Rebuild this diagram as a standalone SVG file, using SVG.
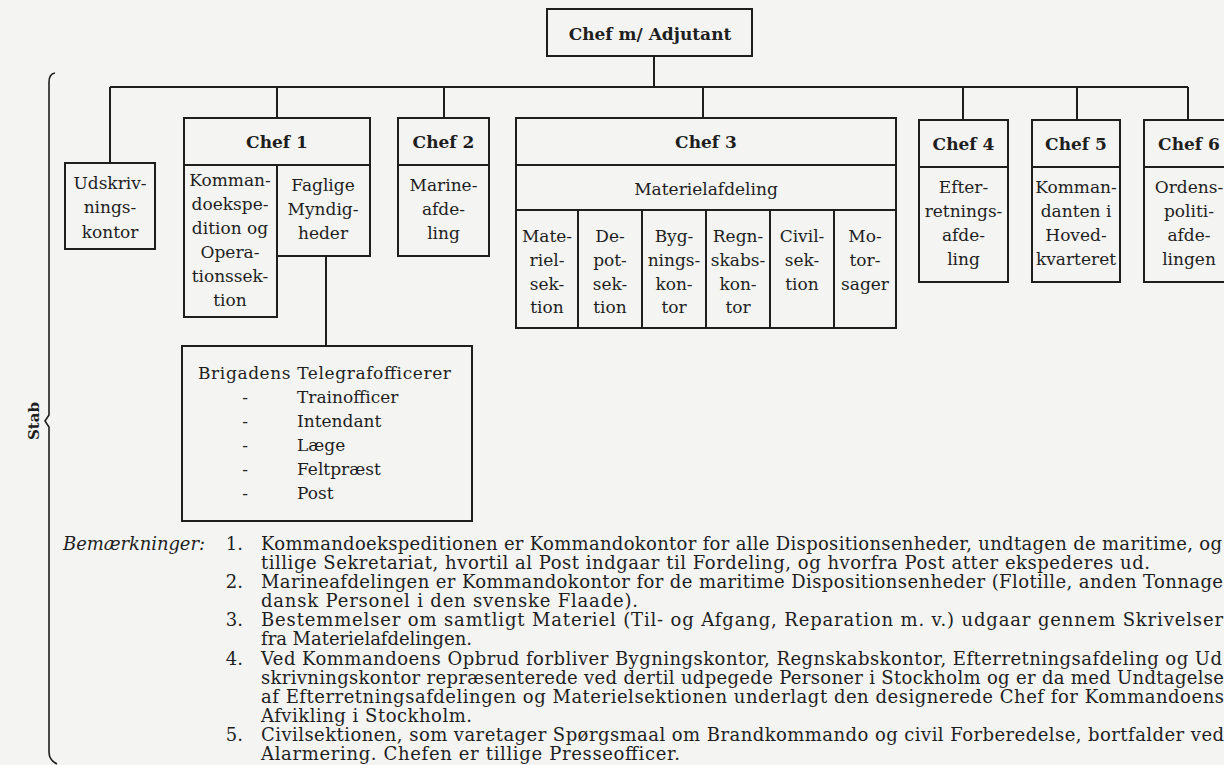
<svg xmlns="http://www.w3.org/2000/svg" width="1224" height="765" viewBox="0 0 1224 765">
<style>
.bg{fill:#f4f4f2}
.box{fill:none;stroke:#1e1e1e;stroke-width:2}
.ln{fill:none;stroke:#1e1e1e;stroke-width:2}
.br{fill:none;stroke:#1e1e1e;stroke-width:1.6}
text{font-family:"DejaVu Serif","Liberation Serif",serif;fill:#1e1e1e}
.t{font-size:17px;text-anchor:middle}
.h{font-size:17px;font-weight:bold;text-anchor:middle}
.l{font-size:17px}
.n{font-size:18px}
.ne{font-size:18px;text-anchor:end}
.it{font-size:18px;font-style:italic}
.stab{font-size:15px;font-weight:bold;text-anchor:middle}
</style>
<rect class="bg" x="0" y="0" width="1224" height="765"/>

<g id="connectors">
<path class="ln" d="M654 56V87"/>
<path class="ln" d="M110 87H1188"/>
<path class="ln" d="M110 87V163M277 87V118M444 87V118M703 87V118M963 87V120M1077 87V120M1188 87V120"/>
<path class="ln" d="M326 256V346"/>
</g>

<g id="chef">
<rect class="box" x="547" y="9" width="205" height="47"/>
<text class="h" x="650" y="40">Chef m/ Adjutant</text>
</g>

<g id="udskrivning">
<rect class="box" x="65" y="163" width="90" height="86"/>
<text class="t" x="110" y="189">Udskriv-</text>
<text class="t" x="110" y="213">nings-</text>
<text class="t" x="110" y="238">kontor</text>
</g>

<g id="chef1">
<path class="box" d="M184 118H370V256H277V317H184Z"/>
<path class="ln" d="M184 165H370M277 165V317"/>
<text class="h" x="277" y="148">Chef 1</text>
<text class="t" x="230" y="186">Komman-</text>
<text class="t" x="230" y="210">doekspe-</text>
<text class="t" x="230" y="234">dition og</text>
<text class="t" x="230" y="258">Opera-</text>
<text class="t" x="230" y="282">tionssek-</text>
<text class="t" x="230" y="306">tion</text>
<text class="t" x="323" y="191">Faglige</text>
<text class="t" x="323" y="215">Myndig-</text>
<text class="t" x="323" y="239">heder</text>
</g>

<g id="brigade">
<rect class="box" x="182" y="346" width="290" height="175"/>
<text class="l" x="198" y="379" textLength="253" lengthAdjust="spacing">Brigadens Telegrafofficerer</text>
<text class="t" x="245" y="403">-</text>
<text class="t" x="245" y="427">-</text>
<text class="t" x="245" y="451">-</text>
<text class="t" x="245" y="475">-</text>
<text class="t" x="245" y="499">-</text>
<text class="l" x="297" y="403">Trainofficer</text>
<text class="l" x="297" y="427">Intendant</text>
<text class="l" x="297" y="451">Læge</text>
<text class="l" x="297" y="475">Feltpræst</text>
<text class="l" x="297" y="499">Post</text>
</g>

<g id="chef2">
<rect class="box" x="398" y="118" width="91" height="138"/>
<path class="ln" d="M398 165H489"/>
<text class="h" x="443.5" y="148">Chef 2</text>
<text class="t" x="443.5" y="191">Marine-</text>
<text class="t" x="443.5" y="215">afde-</text>
<text class="t" x="443.5" y="239">ling</text>
</g>

<g id="chef3">
<rect class="box" x="516" y="118" width="380" height="210"/>
<path class="ln" d="M516 165H896M516 210H896"/>
<path class="ln" d="M578 210V328M642 210V328M706 210V328M770 210V328M834 210V328"/>
<text class="h" x="706" y="148">Chef 3</text>
<text class="t" x="706" y="195">Materielafdeling</text>
<text class="t" x="547" y="242">Mate-</text>
<text class="t" x="547" y="266">riel-</text>
<text class="t" x="547" y="290">sek-</text>
<text class="t" x="547" y="313">tion</text>
<text class="t" x="610" y="242">De-</text>
<text class="t" x="610" y="266">pot-</text>
<text class="t" x="610" y="290">sek-</text>
<text class="t" x="610" y="313">tion</text>
<text class="t" x="674" y="242">Byg-</text>
<text class="t" x="674" y="266">nings-</text>
<text class="t" x="674" y="290">kon-</text>
<text class="t" x="674" y="313">tor</text>
<text class="t" x="738" y="242">Regn-</text>
<text class="t" x="738" y="266">skabs-</text>
<text class="t" x="738" y="290">kon-</text>
<text class="t" x="738" y="313">tor</text>
<text class="t" x="802" y="242">Civil-</text>
<text class="t" x="802" y="266">sek-</text>
<text class="t" x="802" y="290">tion</text>
<text class="t" x="865" y="242">Mo-</text>
<text class="t" x="865" y="266">tor-</text>
<text class="t" x="865" y="290">sager</text>
</g>

<g id="chef4">
<rect class="box" x="919" y="120" width="89" height="162"/>
<path class="ln" d="M919 167H1008"/>
<text class="h" x="963.5" y="150">Chef 4</text>
<text class="t" x="963.5" y="193">Efter-</text>
<text class="t" x="963.5" y="217">retnings-</text>
<text class="t" x="963.5" y="241">afde-</text>
<text class="t" x="963.5" y="265">ling</text>
</g>

<g id="chef5">
<rect class="box" x="1032" y="120" width="88" height="162"/>
<path class="ln" d="M1032 167H1120"/>
<text class="h" x="1076" y="150">Chef 5</text>
<text class="t" x="1076" y="193">Komman-</text>
<text class="t" x="1076" y="217">danten i</text>
<text class="t" x="1076" y="241">Hoved-</text>
<text class="t" x="1076" y="265">kvarteret</text>
</g>

<g id="chef6">
<rect class="box" x="1144" y="120" width="92" height="162"/>
<path class="ln" d="M1144 167H1236"/>
<text class="h" x="1189" y="150">Chef 6</text>
<text class="t" x="1189" y="193">Ordens-</text>
<text class="t" x="1189" y="217">politi-</text>
<text class="t" x="1189" y="241">afde-</text>
<text class="t" x="1189" y="265">lingen</text>
</g>

<g id="stab">
<path class="br" d="M55 73Q49 74 49 82V415L45 421L49 427V752Q49 760 57 764"/>
<text class="stab" transform="translate(39 421) rotate(-90)">Stab</text>
</g>

<g id="notes">
<text class="it" x="63" y="550" textLength="142" lengthAdjust="spacing">Bemærkninger:</text>
<text class="ne" x="243" y="550">1.</text>
<text class="n" x="261" y="550" textLength="961" lengthAdjust="spacing">Kommandoekspeditionen er Kommandokontor for alle Dispositionsenheder, undtagen de maritime, og</text>
<text class="n" x="261" y="569" textLength="889" lengthAdjust="spacing">tillige Sekretariat, hvortil al Post indgaar til Fordeling, og hvorfra Post atter ekspederes ud.</text>
<text class="ne" x="243" y="588">2.</text>
<text class="n" x="261" y="588" textLength="962" lengthAdjust="spacing">Marineafdelingen er Kommandokontor for de maritime Dispositionsenheder (Flotille, anden Tonnage</text>
<text class="n" x="261" y="607" textLength="377" lengthAdjust="spacing">dansk Personel i den svenske Flaade).</text>
<text class="ne" x="243" y="626">3.</text>
<text class="n" x="261" y="626" textLength="962" lengthAdjust="spacing">Bestemmelser om samtligt Materiel (Til- og Afgang, Reparation m. v.) udgaar gennem Skrivelser</text>
<text class="n" x="261" y="645" textLength="211" lengthAdjust="spacing">fra Materielafdelingen.</text>
<text class="ne" x="243" y="665">4.</text>
<text class="n" x="261" y="665" textLength="961" lengthAdjust="spacing">Ved Kommandoens Opbrud forbliver Bygningskontor, Regnskabskontor, Efterretningsafdeling og Ud</text>
<text class="n" x="261" y="684" textLength="963" lengthAdjust="spacing">skrivningskontor repræsenterede ved dertil udpegede Personer i Stockholm og er da med Undtagelse</text>
<text class="n" x="261" y="703" textLength="963" lengthAdjust="spacing">af Efterretningsafdelingen og Materielsektionen underlagt den designerede Chef for Kommandoens</text>
<text class="n" x="261" y="722" textLength="211" lengthAdjust="spacing">Afvikling i Stockholm.</text>
<text class="ne" x="243" y="741">5.</text>
<text class="n" x="261" y="741" textLength="963" lengthAdjust="spacing">Civilsektionen, som varetager Spørgsmaal om Brandkommando og civil Forberedelse, bortfalder ved</text>
<text class="n" x="261" y="760" textLength="419" lengthAdjust="spacing">Alarmering. Chefen er tillige Presseofficer.</text>
</g>
</svg>
